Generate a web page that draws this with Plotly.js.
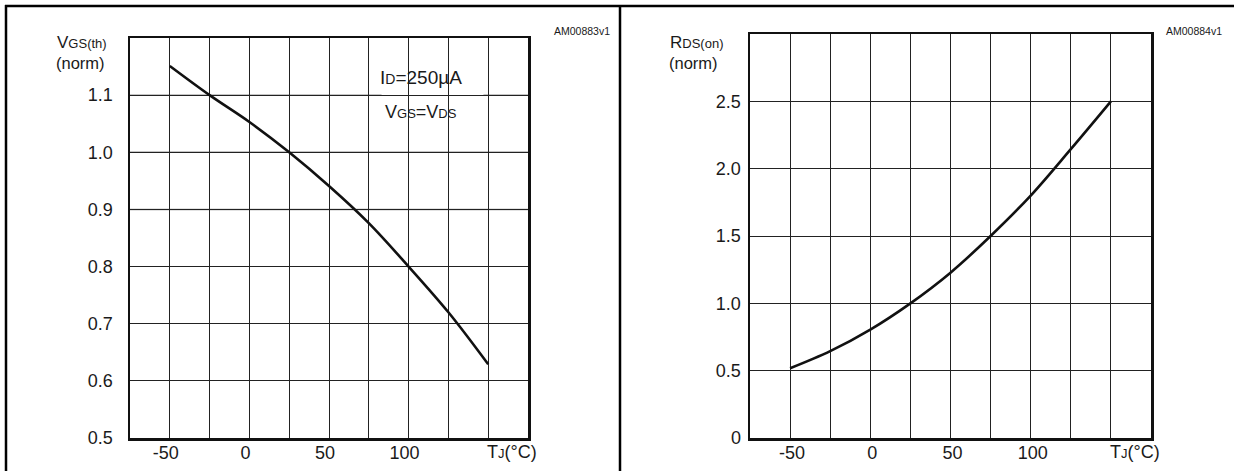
<!DOCTYPE html>
<html>
<head>
<meta charset="utf-8">
<script src="https://cdn.plot.ly/plotly-3.0.1.min.js"></script>
<style>html,body{margin:0;padding:0;background:#fff;}#chart{width:1234px;height:471px;}</style>
</head>
<body>
<div id="chart"></div>
<script>
// Data
var tempC = [-50, -25, 0, 25, 50, 75, 100, 125, 150];
var vgsThNorm = [1.151, 1.100, 1.053, 1.000, 0.941, 0.876, 0.800, 0.720, 0.629];
var rdsOnNorm = [0.518, 0.645, 0.805, 1.000, 1.228, 1.500, 1.800, 2.145, 2.500];

var xTickVals = [-50, -25, 0, 25, 50, 75, 100, 125, 150];
var xTickText = ['-50', '', '0', '', '50', '', '100', '', ''];
var vgsTickVals = [0.5, 0.6, 0.7, 0.8, 0.9, 1.0, 1.1];
var vgsTickText = ['0.5', '0.6', '0.7', '0.8', '0.9', '1.0', '1.1'];
var vgsGrayLines = [0.9, 1.0, 1.1];
var rdsTickVals = [0, 0.5, 1.0, 1.5, 2.0, 2.5, 3.0];
var rdsTickText = ['0', '0.5', '1.0', '1.5', '2.0', '2.5', ''];

var W = 1234, H = 471;
function px(x) { return x / W; }
function py(y) { return 1 - y / H; }

var FONT = 'Liberation Sans, Arial, Helvetica, sans-serif';
var TXT = '#1a1a1a';

var traces = [
  {x: tempC, y: vgsThNorm, xaxis: 'x', yaxis: 'y', mode: 'lines',
   line: {color: '#111', width: 2.6, shape: 'spline', smoothing: 1}, hoverinfo: 'skip'},
  {x: tempC, y: rdsOnNorm, xaxis: 'x2', yaxis: 'y2', mode: 'lines',
   line: {color: '#111', width: 2.6, shape: 'spline', smoothing: 1}, hoverinfo: 'skip'}
];

function xAxis(domain, anchor, shift) {
  return {
    domain: domain, anchor: anchor, range: [-75, 175], fixedrange: true,
    tickmode: 'array', tickvals: xTickVals, ticktext: xTickText,
    showgrid: true, gridcolor: '#222', gridwidth: 1, zeroline: false,
    showline: true, linecolor: '#111', linewidth: 2.5, mirror: true,
    ticks: '', ticklabelstandoff: -3, ticklabelshift: shift,
    tickfont: {family: FONT, size: 18, color: TXT}
  };
}
function yAxis(domain, anchor, range, vals, text, standoff) {
  return {
    domain: domain, anchor: anchor, range: range, fixedrange: true,
    tickmode: 'array', tickvals: vals, ticktext: text,
    showgrid: true, gridcolor: '#222', gridwidth: 1, zeroline: false,
    showline: true, linecolor: '#111', linewidth: 2.5, mirror: true,
    ticks: '', ticklabelstandoff: standoff,
    tickfont: {family: FONT, size: 18, color: TXT}
  };
}

var small = function (t, s) { return '<span style="font-size:' + s + 'px">' + t + '</span>'; };

var annotations = [
  {xref: 'paper', yref: 'paper', x: px(55), y: py(43), xanchor: 'left', yanchor: 'middle', showarrow: false,
   text: 'V' + small('GS(th)', 13), font: {family: FONT, size: 17, color: TXT}},
  {xref: 'paper', yref: 'paper', x: px(54), y: py(63), xanchor: 'left', yanchor: 'middle', showarrow: false,
   text: '(norm)', font: {family: FONT, size: 16.5, color: TXT}},
  {xref: 'paper', yref: 'paper', x: px(668), y: py(43), xanchor: 'left', yanchor: 'middle', showarrow: false,
   text: 'R' + small('DS(on)', 13), font: {family: FONT, size: 17, color: TXT}},
  {xref: 'paper', yref: 'paper', x: px(667), y: py(63), xanchor: 'left', yanchor: 'middle', showarrow: false,
   text: '(norm)', font: {family: FONT, size: 16.5, color: TXT}},
  {xref: 'paper', yref: 'paper', x: px(582), y: py(31), xanchor: 'center', yanchor: 'middle', showarrow: false,
   text: 'AM00883v1', font: {family: FONT, size: 10.5, color: TXT}},
  {xref: 'paper', yref: 'paper', x: px(1194), y: py(31), xanchor: 'center', yanchor: 'middle', showarrow: false,
   text: 'AM00884v1', font: {family: FONT, size: 10.5, color: TXT}},
  {xref: 'paper', yref: 'paper', x: px(512), y: py(452), xanchor: 'center', yanchor: 'middle', showarrow: false,
   text: 'T' + small('J', 13) + '(°C)', font: {family: FONT, size: 18, color: TXT}},
  {xref: 'paper', yref: 'paper', x: px(1135), y: py(452), xanchor: 'center', yanchor: 'middle', showarrow: false,
   text: 'T' + small('J', 13) + '(°C)', font: {family: FONT, size: 18, color: TXT}},
  {xref: 'paper', yref: 'paper', x: px(421), y: py(78), xanchor: 'center', yanchor: 'middle', showarrow: false,
   text: 'I' + small('D', 14) + '=250µA', font: {family: FONT, size: 19, color: TXT}},
  {xref: 'paper', yref: 'paper', x: px(421), y: py(112), xanchor: 'center', yanchor: 'middle', showarrow: false,
   text: 'V' + small('GS', 13) + '=V' + small('DS', 13), font: {family: FONT, size: 18, color: TXT}}
];

var shapes = [];
vgsGrayLines.forEach(function (v) {
  shapes.push({type: 'line', xref: 'x', yref: 'y', x0: -75, x1: 175, y0: v, y1: v,
               line: {color: '#8a8a8a', width: 1.4}, layer: 'below'});
});
shapes.push(
  // legend background box (covers grid)
  {type: 'rect', xref: 'x', yref: 'y', x0: 83, x1: 147, y0: 1.025, y1: 1.174,
   fillcolor: '#fff', line: {width: 0}, layer: 'below'},
  // outer frame lines
  {type: 'line', xref: 'paper', yref: 'paper', x0: px(5), x1: 1, y0: py(6), y1: py(6), line: {color: '#000', width: 2.5}},
  {type: 'line', xref: 'paper', yref: 'paper', x0: px(6), x1: px(6), y0: py(5), y1: 0, line: {color: '#000', width: 2.5}},
  {type: 'line', xref: 'paper', yref: 'paper', x0: px(620), x1: px(620), y0: py(5), y1: 0, line: {color: '#000', width: 2.5}}
);

var layout = {
  width: W, height: H, margin: {l: 0, r: 0, t: 0, b: 0},
  paper_bgcolor: '#fff', plot_bgcolor: '#fff', showlegend: false,
  font: {family: FONT, color: TXT},
  xaxis: xAxis([px(130), px(528)], 'y', -4),
  yaxis: yAxis([py(438), py(38)], 'x', [0.5, 1.2], vgsTickVals, vgsTickText, 11),
  xaxis2: xAxis([px(750), px(1151)], 'y2', 2),
  yaxis2: yAxis([py(438), py(34)], 'x2', [0, 3], rdsTickVals, rdsTickText, 3),
  annotations: annotations,
  shapes: shapes
};

Plotly.newPlot('chart', traces, layout, {staticPlot: true, displayModeBar: false});
</script>
</body>
</html>
